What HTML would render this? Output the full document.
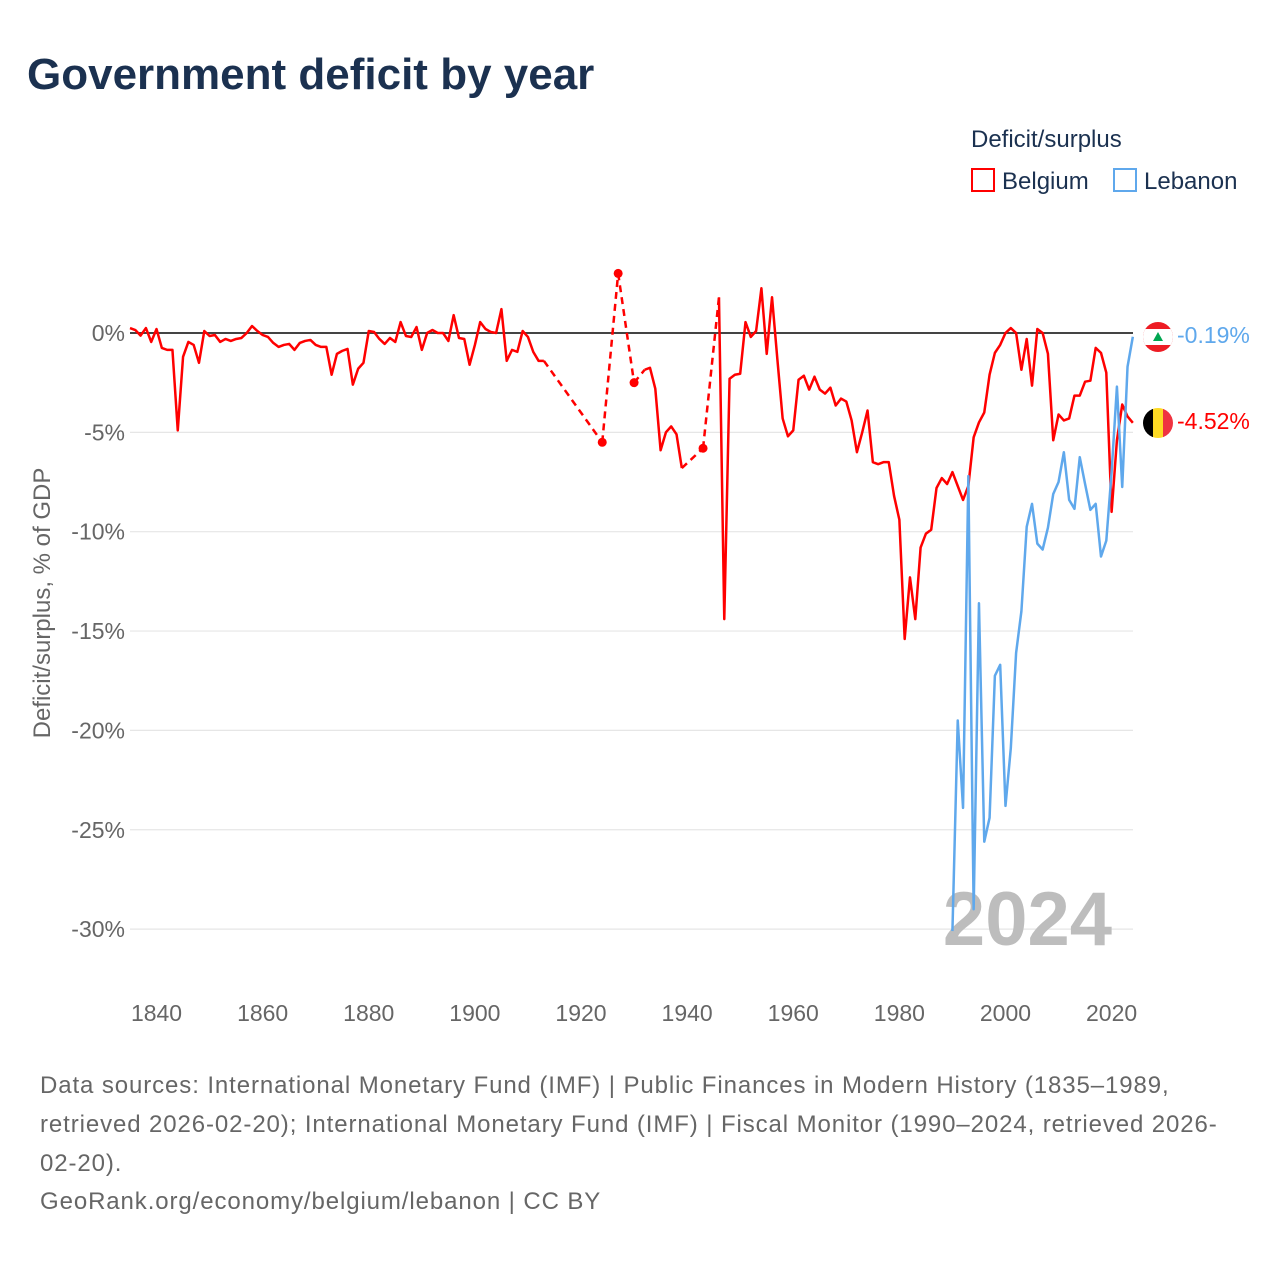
<!DOCTYPE html>
<html><head><meta charset="utf-8"><style>
body{margin:0;background:#fff;width:1280px;height:1280px;overflow:hidden;font-family:"Liberation Sans",sans-serif;}
#t{position:absolute;left:27px;top:50px;font-size:44px;font-weight:bold;color:#1b3150;margin:0;letter-spacing:0px}
.ft{position:absolute;left:40px;font-size:24px;color:#666;line-height:39px;letter-spacing:0.9px;white-space:nowrap}
</style></head><body>
<h1 id="t">Government deficit by year</h1>
<svg id="c" width="1280" height="1280" style="position:absolute;left:0;top:0"></svg>
<div class="ft" style="top:1066px">Data sources: International Monetary Fund (IMF) | Public Finances in Modern History (1835–1989,<br>retrieved 2026-02-20); International Monetary Fund (IMF) | Fiscal Monitor (1990–2024, retrieved 2026-<br>02-20).</div>
<div class="ft" style="top:1182px">GeoRank.org/economy/belgium/lebanon | CC BY</div>
<script>
const belStart=1835;
const belgium=[0.25,0.15,-0.13,0.25,-0.45,0.2,-0.75,-0.85,-0.85,-4.9,-1.2,-0.45,-0.6,-1.5,0.1,-0.15,-0.1,-0.45,-0.3,-0.4,-0.3,-0.25,0,0.35,0.1,-0.1,-0.2,-0.5,-0.7,-0.6,-0.55,-0.85,-0.5,-0.4,-0.35,-0.6,-0.7,-0.7,-2.1,-1.05,-0.9,-0.8,-2.6,-1.8,-1.5,0.1,0.05,-0.3,-0.55,-0.25,-0.45,0.55,-0.15,-0.2,0.3,-0.85,0,0.15,0,0,-0.4,0.9,-0.25,-0.3,-1.6,-0.6,0.55,0.2,0.05,0,1.2,-1.4,-0.85,-0.95,0.1,-0.2,-0.95,-1.4,-1.4,
null,null,null,null,null,null,null,null,null,null,-5.5,null,null,3.0,null,null,-2.5,null,-1.85,-1.75,-2.8,-5.9,-5.0,-4.7,-5.1,-6.8,null,null,null,-5.8,null,null,
1.8,-14.4,-2.3,-2.1,-2.05,0.55,-0.2,0.1,2.25,-1.05,1.8,-1.3,-4.3,-5.2,-4.9,-2.35,-2.15,-2.85,-2.2,-2.85,-3.05,-2.75,-3.65,-3.3,-3.45,-4.4,-6.0,-5.0,-3.9,-6.5,-6.6,-6.5,-6.5,-8.2,-9.4,-15.4,-12.3,-14.4,-10.8,-10.1,-9.9,-7.8,-7.3,-7.6,
-7.0,-7.7,-8.4,-7.7,-5.25,-4.5,-4.0,-2.1,-1.0,-0.6,0,0.25,0,-1.85,-0.3,-2.65,0.2,0,-1.05,-5.4,-4.1,-4.4,-4.3,-3.15,-3.15,-2.45,-2.4,-0.75,-1.0,-2.0,-9.0,-5.4,-3.6,-4.2,-4.52];
const lebStart=1990;
const lebanon=[-30.1,-19.5,-23.9,-7.2,-29.0,-13.6,-25.6,-24.4,-17.25,-16.7,-23.8,-20.9,-16.1,-14.0,-9.75,-8.6,-10.6,-10.9,-9.8,-8.1,-7.5,-6.0,-8.4,-8.85,-6.25,-7.6,-8.9,-8.6,-11.25,-10.45,-7.0,-2.7,-7.75,-1.7,-0.19];
const yTicks=[0,-5,-10,-15,-20,-25,-30];
const xTicks=[1840,1860,1880,1900,1920,1940,1960,1980,2000,2020];
const X=y=>130+(y-1835)*5.306, Y=v=>333-v*19.87;
const svg=document.getElementById('c'),NS='http://www.w3.org/2000/svg';
function mk(tag,a,txt){const e=document.createElementNS(NS,tag);for(const k in a)e.setAttribute(k,a[k]);if(txt!=null)e.textContent=txt;svg.appendChild(e);return e;}
yTicks.forEach(v=>{
 const g=mk('line',{x1:130,x2:1133,y1:Y(v),y2:Y(v),stroke:v===0?'#444':'#e6e6e6','stroke-width':v===0?2:1.2});
 
 
 const t=mk('text',{x:125,y:Y(v)+8,'text-anchor':'end','font-size':23,fill:'#666'},v+'%');
 
 
});
xTicks.forEach(y=>{
 const t=mk('text',{x:X(y),y:1021,'text-anchor':'middle','font-size':23,fill:'#666'},y);
 
 
});
const yt=mk('text',{transform:'translate(50,603) rotate(-90)','text-anchor':'middle','font-size':24,fill:'#666'},'Deficit/surplus, % of GDP');


const wm=mk('text',{x:1112,y:945,'text-anchor':'end','font-size':76,'font-weight':'bold',fill:'#bdbdbd'},'2024');


const pts=belgium.map((v,i)=>v==null?null:[X(belStart+i),Y(v)]);
let runs=[],cur=[];
pts.forEach(p=>{if(p){cur.push(p)}else if(cur.length){runs.push(cur);cur=[]}});
if(cur.length)runs.push(cur);
runs.forEach((r,i)=>{
 if(r.length>1){const l=mk('polyline',{points:r.map(p=>p.join(',')).join(' '),fill:'none',stroke:'#ff0000','stroke-width':2.5,'stroke-linejoin':'round'});
  
  }
 else{const d=mk('circle',{cx:r[0][0],cy:r[0][1],r:4.5,fill:'#ff0000'});
  
  }
 if(i>0){const a=runs[i-1][runs[i-1].length-1],b=r[0];
  const g=mk('line',{x1:a[0],y1:a[1],x2:b[0],y2:b[1],stroke:'#ff0000','stroke-width':2.5,'stroke-dasharray':'7,5'});
  
  }
});
const lp=lebanon.map((v,i)=>X(lebStart+i)+','+Y(v)).join(' ');
const ll=mk('polyline',{points:lp,fill:'none',stroke:'#5fa8ec','stroke-width':2.5,'stroke-linejoin':'round'});


function flag(cy,kind){
 const g=document.createElementNS(NS,'g');svg.appendChild(g);
 
 
 const cid='cl'+kind;
 g.innerHTML=`<clipPath id="${cid}"><circle cx="1158" cy="${cy}" r="15"/></clipPath>`+
 (kind==='belgium'?`<g clip-path="url(#${cid})"><rect x="1143" y="${cy-15}" width="10" height="30" fill="#000"/><rect x="1153" y="${cy-15}" width="10" height="30" fill="#fdda24"/><rect x="1163" y="${cy-15}" width="10" height="30" fill="#ef3340"/></g>`
 :`<g clip-path="url(#${cid})"><rect x="1143" y="${cy-15}" width="30" height="30" fill="#ed1c24"/><rect x="1143" y="${cy-8}" width="30" height="16" fill="#fff"/><path d="M1158 ${cy-5} l-5 9 h10z" fill="#00a651"/></g>`);
}
flag(337,'lebanon');flag(423,'belgium');
const t1=mk('text',{x:1177,y:343,'font-size':23,fill:'#5fa8ec'},lebanon[lebanon.length-1]+'%');


const t2=mk('text',{x:1177,y:429,'font-size':23,fill:'#ff0000'},belgium[belgium.length-1].toFixed(2)+'%');


const lt=mk('text',{x:971,y:147,'font-size':24,fill:'#1b3150'},'Deficit/surplus');


[[971,'#ff0000','Belgium'],[1113,'#5fa8ec','Lebanon']].forEach(([x,c,n])=>{
 const r=mk('rect',{x:x+1,y:169,width:22,height:22,fill:'#fff',stroke:c,'stroke-width':2});
 
 
 const t=mk('text',{x:x+31,y:189,'font-size':24,fill:'#1b3150'},n);
 
 
});
</script>
</body></html>
